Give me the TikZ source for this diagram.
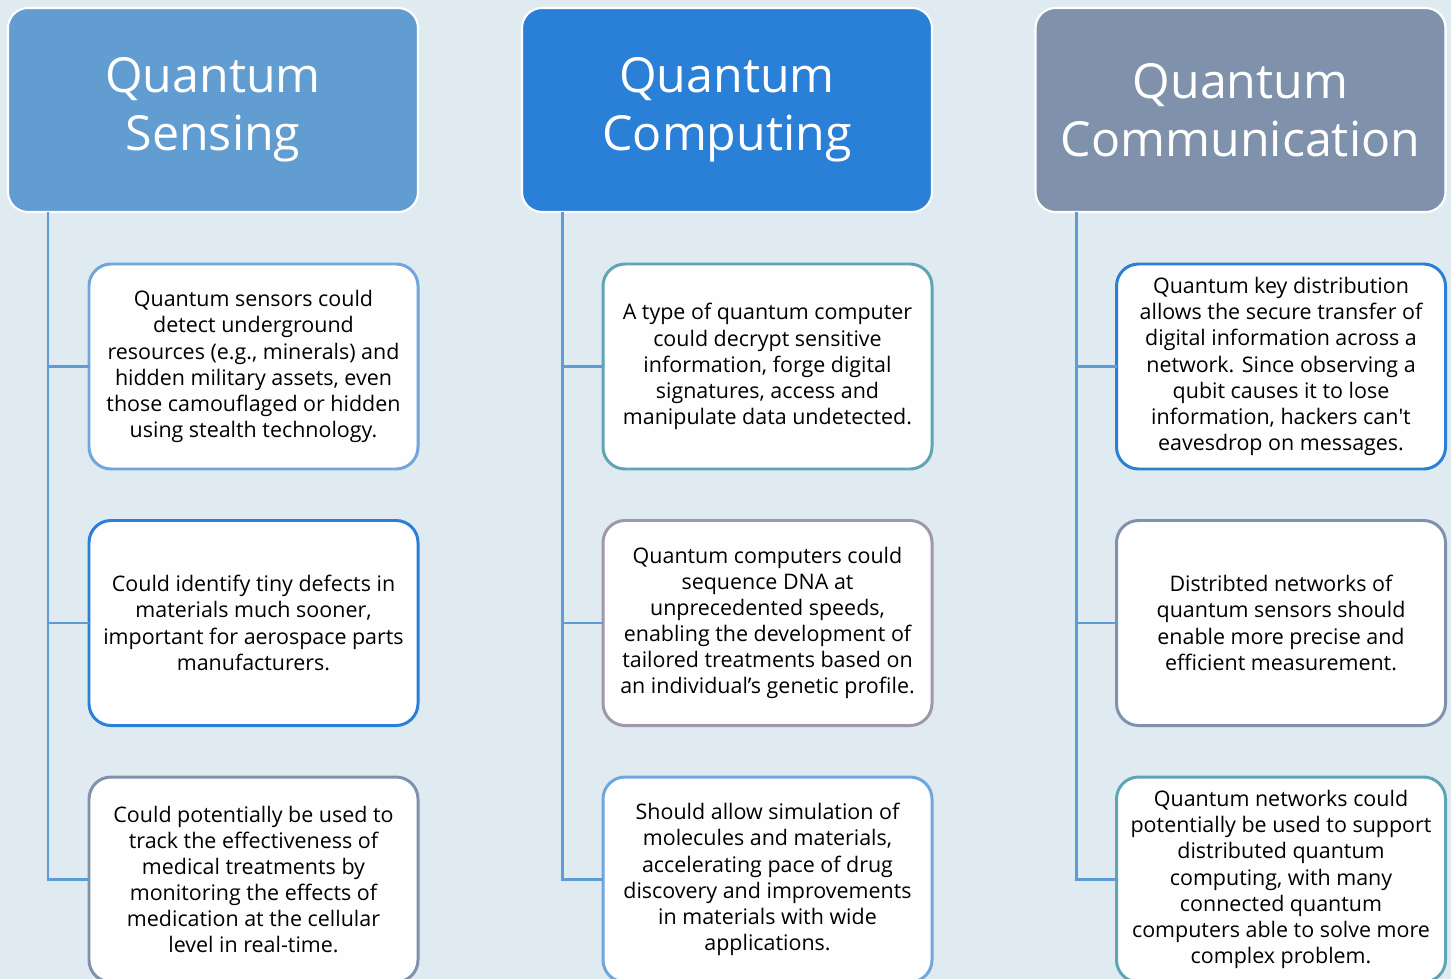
\documentclass[tikz,border=0pt]{standalone}
\usepackage{fontspec}
\setmainfont{Open Sans}
\usetikzlibrary{positioning}

\definecolor{paper}{HTML}{DFEBF1}
\definecolor{senseblue}{HTML}{629DD1}
\definecolor{computeblue}{HTML}{2A7FD6}
\definecolor{commgrey}{HTML}{8091AB}
\definecolor{lightblue}{HTML}{70A6DC}
\definecolor{teal}{HTML}{5FA5B5}
\definecolor{mauve}{HTML}{A097AC}
\definecolor{linkblue}{HTML}{5F9BD6}

% straight apostrophe, kept out of the tex-text mapping
\newcommand{\straightquote}{\XeTeXglyph\XeTeXglyphindex"quotesingle"\relax}

\begin{document}
\begin{tikzpicture}[
        node distance=1.03cm,
        head/.style={draw=white, line width=1.2pt, rounded corners=0.4cm, outer sep=0pt,
            minimum width=8.2cm, minimum height=4.08cm, align=center,
            text=white, font=\fontsize{27.5}{33}\selectfont},
        item/.style={draw, fill=white!70!paper!10, line width=1.7pt, rounded corners=0.44cm,
            outer sep=0pt, minimum width=6.58cm, minimum height=4.1cm, align=center,
            inner sep=2pt, font=\fontsize{12.2}{14.86}\selectfont},
        link/.style={draw=linkblue, line width=1.7pt}
    ]
        % Background
        \fill[paper] (0,0) rectangle (29.02,-19.58);
        \useasboundingbox (0,0) rectangle (29.02,-19.58);
        \clip (0,0) rectangle (29.02,-19.58);

        % Headers
        \node (sense) [head, fill=senseblue, anchor=north west] at (0.16,-0.16) {Quantum\\Sensing};
        \node (compute) [head, fill=computeblue, right=2.08cm of sense] {Quantum\\Computing};
        \node (comm) [head, fill=commgrey, right=2.07cm of compute] {Quantum\\Communication};

        % Sensing column
        \node (sense1) [item, draw=lightblue, below left=1.04cm and 0cm of sense.south east]
            {Quantum sensors could\\detect underground\\resources (e.g., minerals) and\\hidden military assets, even\\those camouflaged or hidden\\using stealth technology.};
        \node (sense2) [item, draw=computeblue, below=of sense1]
            {Could identify tiny defects in\\materials much sooner,\\important for aerospace parts\\manufacturers.};
        \node (sense3) [item, draw=commgrey, below=of sense2]
            {Could potentially be used to\\track the effectiveness of\\medical treatments by\\monitoring the effects of\\medication at the cellular\\level in real-time.};

        % Computing column
        \node (compute1) [item, draw=teal, below left=1.04cm and 0cm of compute.south east]
            {A type of quantum computer\\could decrypt sensitive\\information, forge digital\\signatures, access and\\manipulate data undetected.};
        \node (compute2) [item, draw=mauve, below=of compute1]
            {Quantum computers could\\sequence DNA at\\unprecedented speeds,\\enabling the development of\\tailored treatments based on\\an individual’s genetic profile.};
        \node (compute3) [item, draw=lightblue, below=of compute2]
            {Should allow simulation of\\molecules and materials,\\accelerating pace of drug\\discovery and improvements\\in materials with wide\\applications.};

        % Communication column
        \node (comm1) [item, draw=computeblue, below left=1.04cm and 0cm of comm.south east]
            {Quantum key distribution\\allows the secure transfer of\\digital information across a\\network. Since observing a\\qubit causes it to lose\\information, hackers can\straightquote t\\eavesdrop on messages.};
        \node (comm2) [item, draw=commgrey, below=of comm1]
            {Distribted networks of\\quantum sensors should\\enable more precise and\\efficient measurement.};
        \node (comm3) [item, draw=teal, below=of comm2]
            {Quantum networks could\\potentially be used to support\\distributed quantum\\computing, with many\\connected quantum\\computers able to solve more\\complex problem.};

        % Trunks
        \coordinate (senseRoot) at ([xshift=0.8cm]sense.south west);
        \coordinate (computeRoot) at ([xshift=0.8cm]compute.south west);
        \coordinate (commRoot) at ([xshift=0.82cm]comm.south west);

        % Lines
        \foreach \col in {sense,compute,comm}{
            \foreach \i in {1,2,3}
                \path[link] (\col Root) |- (\col\i.west);
        }
    \end{tikzpicture}
\end{document}
